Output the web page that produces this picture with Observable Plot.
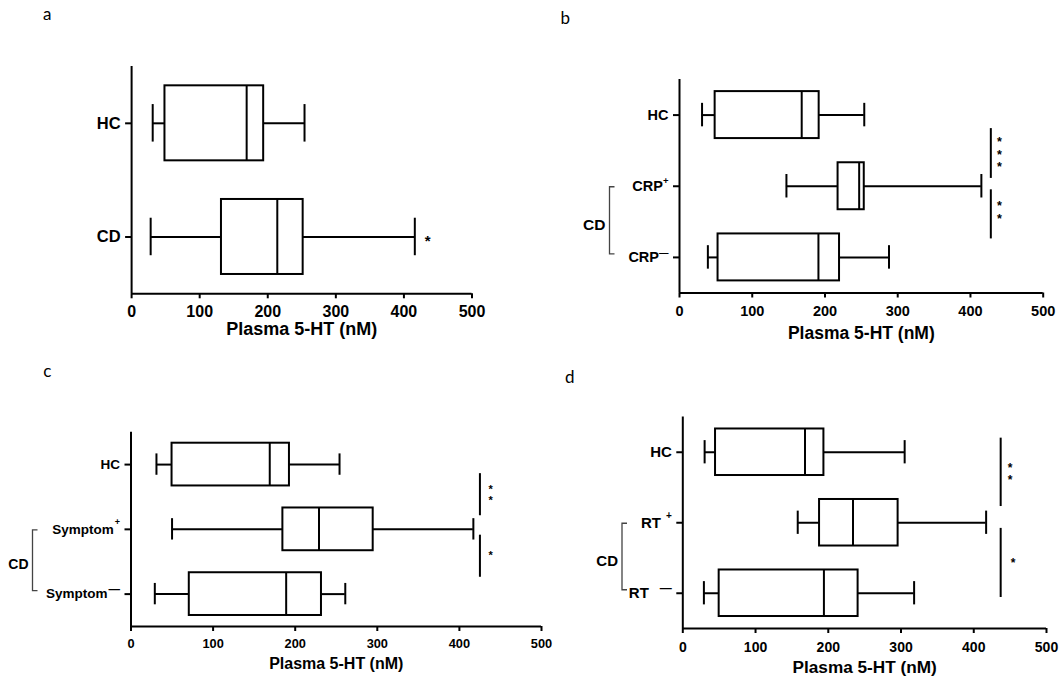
<!DOCTYPE html>
<html>
<head>
<meta charset="utf-8">
<script src="https://cdn.jsdelivr.net/npm/d3@7"></script>
<script src="https://cdn.jsdelivr.net/npm/@observablehq/plot@0.6"></script>
<style>
  html, body { margin: 0; padding: 0; background: #fff; }
  #root { position: relative; width: 1063px; height: 679px; overflow: hidden; background: #fff; }
  .panel { position: absolute; }
  .panel svg { overflow: visible; }
  #letters { position: absolute; left: 0; top: 0; pointer-events: none; }
</style>
</head>
<body>
<div id="root"></div>
<script>
// ---------------- data ----------------
const xTicks = [0, 100, 200, 300, 400, 500];
const xTitle = "Plasma 5-HT (nM)";
const panelLetters = ["a", "b", "c", "d"];
const bracketLabel = "CD";

// panel a
const aGroups = ["HC", "CD"];
const aSups = ["", ""];
const aMin = [31, 28];
const aQ1 = [49, 132];
const aMed = [169, 214];
const aQ3 = [194, 252];
const aMax = [254, 416];
const aSigText = ["*"];

// panel b
const bGroups = ["HC", "CRP", "CRP"];
const bSups = ["", "+", "\u2014"];
const bMin = [31, 147, 39];
const bQ1 = [49, 218, 53];
const bMed = [168, 247, 191];
const bQ3 = [192, 254, 220];
const bMax = [254, 415, 288];
const bSigText = ["***", "**"];

// panel c
const cGroups = ["HC", "Symptom", "Symptom"];
const cSups = ["", "+", "\u2014"];
const cMin = [31, 50, 29];
const cQ1 = [50, 185, 71];
const cMed = [169, 229, 189];
const cQ3 = [193, 295, 232];
const cMax = [254, 417, 261];
const cSigText = ["**", "*"];

// panel d
const dGroups = ["HC", "RT", "RT"];
const dSups = ["", "+", "\u2014"];
const dMin = [30, 158, 29];
const dQ1 = [45, 188, 50];
const dMed = [168, 234, 194];
const dQ3 = [194, 296, 241];
const dMax = [305, 417, 318];
const dSigText = ["**", "*"];

// ---------------- layout (positions / styles) ----------------
const FONT = '"Liberation Sans", Arial, Helvetica, sans-serif';
const SW = 2;
const BOX_H = 0.33, CAP_H = 0.165;

const layout = {
  a: { left: 0, top: 0, width: 531, height: 340, ml: 131.1, mr: 59.5, mt: 66, mb: 46.7,
       fsY: 16.5, fsX: 16, fsT: 18, padX: 7, titleDy: 35.5, letter: [43, 20],
       bars: [], stars: [{x: 435, y: 1}], starFs: 15,
       bracket: null, supDx: [0, 0], plusFs: 10, dashFs: 10, plusUp: 8, dashUp: 6 },
  b: { left: 531, top: 0, width: 532, height: 340, ml: 148, mr: 20.3, mt: 79, mb: 47.5,
       fsY: 14.5, fsX: 14.5, fsT: 17.5, padX: 7.3, titleDy: 40, letter: [560.6, 24],
       bars: [{x: 428, y1: 0.19, y2: 0.89}, {x: 428, y1: 1.05, y2: 1.74}],
       stars: [{x: 440, y: 0.51}, {x: 440, y: 1.32}], starFs: 12.5,
       bracket: {off: -69.5, fs: 15.5}, supDx: [0, 0, 0], plusFs: 9.5, dashFs: 9.5, plusUp: 7.3, dashUp: 6.1 },
  c: { left: 0, top: 340, width: 560, height: 339, ml: 130.5, mr: 19, mt: 91.7, mb: 53,
       fsY: 13.5, fsX: 12.8, fsT: 16, padX: 7.8, titleDy: 37.3, letter: [43.3, 377.3],
       bars: [{x: 425, y1: 0.14, y2: 0.79}, {x: 425, y1: 1.09, y2: 1.74}],
       stars: [{x: 438, y: 0.42}, {x: 438, y: 1.36}], starFs: 11,
       bracket: {off: -98, fs: 14}, supDx: [0, 1, 1], plusFs: 9, dashFs: 11.5, plusUp: 8.5, dashUp: 5.2 },
  d: { left: 531, top: 340, width: 532, height: 339, ml: 151.3, mr: 17, mt: 76.5, mb: 51,
       fsY: 15, fsX: 14, fsT: 17.2, padX: 8.7, titleDy: 38.7, letter: [565, 382.7],
       bars: [{x: 437, y1: -0.2, y2: 0.77}, {x: 437, y1: 1.08, y2: 2.06}],
       stars: [{x: 450, y: 0.27}, {x: 454, y: 1.53}], starFs: 12,
       bracket: {off: -60.3, fs: 15}, supDx: [0, 5, 11], plusFs: 10, dashFs: 12, plusUp: 8.1, dashUp: 5.6 }
};

const root = document.getElementById("root");

function render(key, groups, sups, mins, q1s, meds, q3s, maxs, sigText) {
  const L = layout[key];
  const n = groups.length;
  const rows = groups.map((g, i) => ({i, min: mins[i], q1: q1s[i], med: meds[i], q3: q3s[i], max: maxs[i]}));
  const stars = L.stars.map((s, k) => ({...s, text: sigText[k].split("").join("\n")}));

  const plot = Plot.plot({
    width: L.width, height: L.height,
    marginLeft: L.ml, marginRight: L.mr, marginTop: L.mt, marginBottom: L.mb,
    style: {fontFamily: FONT, background: "transparent", overflow: "visible", color: "black"},
    x: {domain: [0, 500]},
    y: {domain: [-0.5, n - 0.5], reverse: true},
    marks: [
      // whiskers
      Plot.ruleY(rows, {y: "i", x1: "min", x2: "q1", stroke: "black", strokeWidth: SW}),
      Plot.ruleY(rows, {y: "i", x1: "q3", x2: "max", stroke: "black", strokeWidth: SW}),
      Plot.ruleX(rows, {x: "min", y1: d => d.i - CAP_H, y2: d => d.i + CAP_H, stroke: "black", strokeWidth: SW}),
      Plot.ruleX(rows, {x: "max", y1: d => d.i - CAP_H, y2: d => d.i + CAP_H, stroke: "black", strokeWidth: SW}),
      // boxes
      Plot.rect(rows, {x1: "q1", x2: "q3", y1: d => d.i - BOX_H, y2: d => d.i + BOX_H,
                       fill: "white", stroke: "black", strokeWidth: SW}),
      Plot.ruleX(rows, {x: "med", y1: d => d.i - BOX_H, y2: d => d.i + BOX_H, stroke: "black", strokeWidth: SW}),
      // axes
      Plot.axisX({ticks: xTicks, tickSize: 5, tickPadding: L.padX, fontSize: L.fsX, fontWeight: "bold",
                  strokeWidth: SW, label: null, tickFormat: d => String(d)}),
      Plot.axisY({ticks: d3.range(n), tickSize: 6, tickPadding: 5, fontSize: L.fsY, fontWeight: "bold",
                  strokeWidth: SW, label: null, tickFormat: i => groups[i]}),
      Plot.ruleX([0], {stroke: "black", strokeWidth: SW}),
      Plot.ruleY([n - 0.5], {stroke: "black", strokeWidth: SW}),
      Plot.text([xTitle], {frameAnchor: "bottom", lineAnchor: "middle", dy: L.titleDy, fontSize: L.fsT,
                           fontWeight: "bold", text: d => d, fill: "black"}),
      // significance
      Plot.ruleX(L.bars, {x: "x", y1: "y1", y2: "y2", stroke: "black", strokeWidth: SW}),
      Plot.text(stars, {x: "x", y: "y", text: "text", fontSize: L.starFs, lineHeight: 1, fontWeight: "bold",
                        lineAnchor: "middle", dy: 0.26 * L.starFs, fill: "black"})
    ]
  });

  const sel = d3.select(plot);
  // enforce tick label fonts
  sel.selectAll('g[aria-label="x-axis tick label"]').attr("font-size", L.fsX).attr("font-weight", "bold");
  sel.selectAll('g[aria-label="x-axis tick label"] text').attr("font-size", L.fsX).attr("font-weight", "bold");
  sel.selectAll('g[aria-label="y-axis tick label"]').attr("font-size", L.fsY).attr("font-weight", "bold");
  // superscripts on the category labels
  sel.selectAll('g[aria-label="y-axis tick label"] text').each(function(_, k) {
    const s = sups[k];
    d3.select(this).attr("font-weight", "bold").attr("font-size", L.fsY);
    if (!s) return;
    const isDash = s === "\u2014";
    d3.select(this).append("tspan")
      .attr("dx", L.supDx[k] || 0)
      .attr("dy", -(isDash ? L.dashUp : L.plusUp))
      .attr("font-size", isDash ? L.dashFs : L.plusFs)
      .text(s);
  });

  // bracket grouping the CD subgroups
  if (L.bracket) {
    const xs = plot.scale("x"), ys = plot.scale("y");
    const bx = xs.apply(0) + L.bracket.off;
    const yT = ys.apply(1) + 1, yB = ys.apply(2) - 3;
    sel.append("path")
      .attr("d", `M${bx + 5},${yT}H${bx}V${yB}H${bx + 5}`)
      .attr("fill", "none").attr("stroke", "#444").attr("stroke-width", 1.3);
    sel.append("text")
      .attr("x", bx - 4).attr("y", (yT + yB) / 2 + 4).attr("dy", "0.35em")
      .attr("text-anchor", "end").attr("font-weight", "bold").attr("font-size", L.bracket.fs)
      .attr("font-family", FONT).attr("fill", "black")
      .text(bracketLabel);
  }

  const div = document.createElement("div");
  div.className = "panel";
  div.style.left = L.left + "px";
  div.style.top = L.top + "px";
  div.style.width = L.width + "px";
  div.style.height = L.height + "px";
  div.appendChild(plot);
  root.appendChild(div);
}

render("a", aGroups, aSups, aMin, aQ1, aMed, aQ3, aMax, aSigText);
render("b", bGroups, bSups, bMin, bQ1, bMed, bQ3, bMax, bSigText);
render("c", cGroups, cSups, cMin, cQ1, cMed, cQ3, cMax, cSigText);
render("d", dGroups, dSups, dMin, dQ1, dMed, dQ3, dMax, dSigText);

// panel letters
const letters = d3.select(root).append("svg").attr("id", "letters")
  .attr("width", 1063).attr("height", 679);
["a", "b", "c", "d"].forEach((k, i) => {
  letters.append("text")
    .attr("x", layout[k].letter[0]).attr("y", layout[k].letter[1])
    .attr("font-family", 'Lato, "Open Sans", sans-serif').attr("font-size", 17)
    .attr("fill", "black")
    .text(panelLetters[i]);
});
</script>
</body>
</html>
